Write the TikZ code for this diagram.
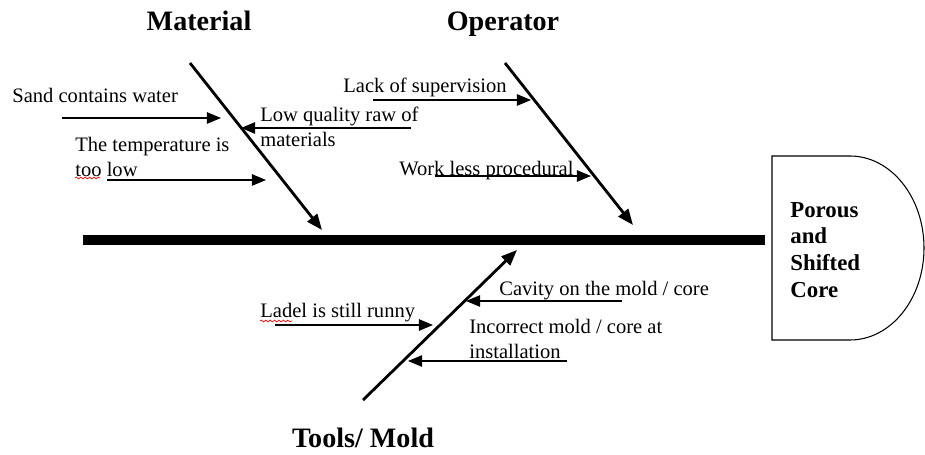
\documentclass[tikz,border=0pt]{standalone}
\usepackage{fontspec}
\setmainfont{Liberation Serif}
\usetikzlibrary{arrows.meta,decorations.pathmorphing}

\begin{document}
\begin{tikzpicture}[x=0.02cm,y=-0.02cm,
    cause/.style={anchor=west,align=left,inner sep=0pt,font=\fontsize{11.7}{14.2}\selectfont},
    category/.style={anchor=base,font=\fontsize{16}{18}\selectfont\bfseries},
    bone/.style={line width=1.6pt,-{Triangle[length=9pt,width=7pt]}},
    twig/.style={line width=0.7pt,-{Triangle[length=8pt,width=6.5pt]}},
    typo/.style={red,line width=0.4pt,decorate,decoration={snake,amplitude=0.5pt,segment length=2.5pt}}]
    \useasboundingbox (0,0) rectangle (925,455);

    % spine and head
    \coordinate (tail) at (83,240);
    \coordinate (head) at (765,240);
    \draw[line width=5.5pt] (tail) -- (head);
    \draw[line width=0.6pt] (772,156) -- (850,156)
        arc[start angle=-90,end angle=90,x radius=74,y radius=92] -- (772,340) -- cycle;
    \node[anchor=west,align=left,inner sep=0pt,font=\fontsize{13}{15.3}\selectfont\bfseries]
        (effect) at (790,250) {Porous\\and\\Shifted\\Core};

    % categories
    \node[category] (material) at (199,31) {Material};
    \node[category] (operator) at (503,31) {Operator};
    \node[category] (tools)    at (363,447) {Tools/ Mold};

    \coordinate (matA) at (190,63);   \coordinate (matB) at (322,230);
    \coordinate (opA)  at (505,63);   \coordinate (opB)  at (633,225);
    \coordinate (toA)  at (363,400);  \coordinate (toB)  at (517,250);
    \draw[bone] (matA) -- (matB);
    \draw[bone] (opA) -- (opB);
    \draw[bone] (toA) -- (toB);

    % material causes
    \node[cause] (sand) at (12,95) {Sand contains water};
    \coordinate (sandA) at (62,118);  \coordinate (sandB) at (221,118);
    \draw[twig] (sandA) -- (sandB);

    \node[cause] (rawmat) at (260,127) {Low quality raw of\\materials};
    \coordinate (rawA) at (411,128);  \coordinate (rawB) at (241,128);
    \draw[twig] (rawA) -- (rawB);

    \node[cause] (temp) at (75,157) {The temperature is\\too low};
    \coordinate (tempA) at (107,180); \coordinate (tempB) at (266,180);
    \draw[twig] (tempA) -- (tempB);
    \draw[typo] (75,178) -- (100,178);

    % operator causes
    \node[cause] (superv) at (343,87) {Lack of supervision};
    \coordinate (supA) at (373,100);  \coordinate (supB) at (531,100);
    \draw[twig] (supA) -- (supB);

    \node[cause] (proc) at (399,171) {Work less procedural};
    \coordinate (procA) at (435,176); \coordinate (procB) at (591,176);
    \draw[twig] (procA) -- (procB);

    % tools / mold causes
    \node[cause] (cavity) at (499,291) {Cavity on the mold / core};
    \coordinate (cavA) at (622,301);  \coordinate (cavB) at (466,301);
    \draw[twig] (cavA) -- (cavB);

    \node[cause] (ladel) at (260,313) {Ladel is still runny};
    \coordinate (ladA) at (275,325);  \coordinate (ladB) at (433,325);
    \draw[twig] (ladA) -- (ladB);
    \draw[typo] (260,321) -- (292,321);

    \node[cause] (install) at (469,339) {Incorrect mold / core at\\installation};
    \coordinate (insA) at (567,361);  \coordinate (insB) at (408,361);
    \draw[twig] (insA) -- (insB);

\end{tikzpicture}
\end{document}
